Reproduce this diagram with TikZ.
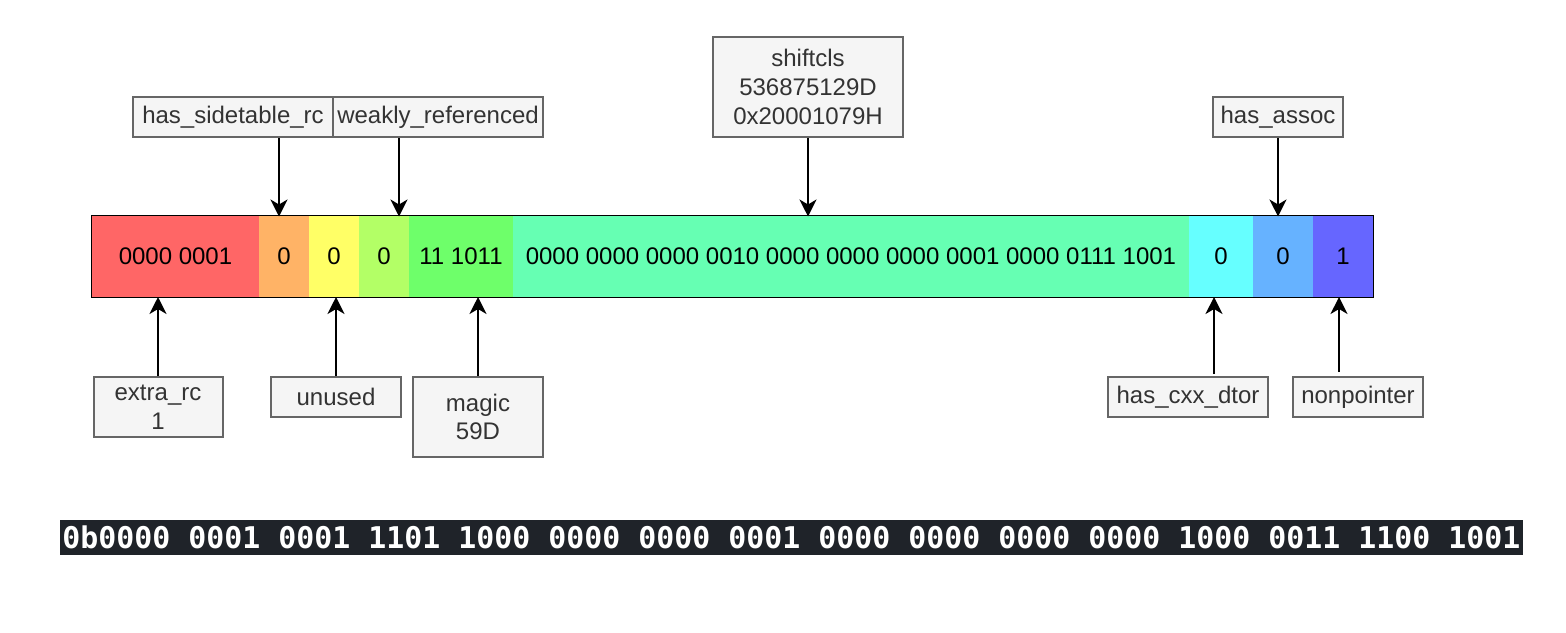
\documentclass[tikz,border=0pt]{standalone}
\usepackage{fontspec}
\setmainfont{Liberation Sans}
\newfontfamily\codefont{DejaVu Sans Mono}
\usetikzlibrary{arrows.meta}
\definecolor{lblfill}{HTML}{F5F5F5}
\definecolor{lbldraw}{HTML}{666666}
\definecolor{lbltext}{HTML}{333333}
\definecolor{cred}{HTML}{FF6666}
\definecolor{corange}{HTML}{FFB366}
\definecolor{cyellow}{HTML}{FFFF66}
\definecolor{clgreen}{HTML}{B3FF66}
\definecolor{cgreen}{HTML}{6EFF6A}
\definecolor{cmint}{HTML}{66FFB3}
\definecolor{ccyan}{HTML}{66FFFF}
\definecolor{cblue}{HTML}{66B2FF}
\definecolor{cpurple}{HTML}{6666FF}
\definecolor{codebg}{HTML}{1F2329}
\begin{document}
\begin{tikzpicture}[x=0.5pt,y=-0.5pt,
  lbl/.style={draw=lbldraw,fill=lblfill,line width=1pt,text=lbltext,align=center,inner sep=0pt,
    font=\fontsize{12}{14.3}\selectfont},
  cell/.style={fill=#1,draw=none,inner sep=0pt,minimum height=40.5pt,font=\fontsize{12}{14.3}\selectfont},
  arr/.style={line width=1pt,-{Stealth[length=8.5pt,width=8.5pt,inset=2.5pt]}}]
\useasboundingbox (0,0) rectangle (1566,632);
% bar cells
\node[cell=cred,minimum width=83.5pt] (c1) at (175.5,256.5) {0000 0001};
\node[cell=corange,minimum width=25pt] (c2) at (284,256.5) {0};
\node[cell=cyellow,minimum width=25pt] (c3) at (334,256.5) {0};
\node[cell=clgreen,minimum width=25pt] (c4) at (384,256.5) {0};
\node[cell=cgreen,minimum width=52pt] (c5) at (461,256.5) {11 1011};
\node[cell=cmint,minimum width=338pt] (c6) at (851,256.5) {0000 0000 0000 0010 0000 0000 0000 0001 0000 0111 1001};
\node[cell=ccyan,minimum width=32pt] (c7) at (1221,256.5) {0};
\node[cell=cblue,minimum width=30pt] (c8) at (1283,256.5) {0};
\node[cell=cpurple,minimum width=30pt] (c9) at (1343,256.5) {1};
\draw[line width=0.6pt] (c1.north west) rectangle (c9.south east);
% top labels
\node[lbl,minimum width=100pt,minimum height=20pt] (hs) at (233,117) {has\_sidetable\_rc};
\node[lbl,minimum width=105pt,minimum height=20pt] (wr) at (438,117) {weakly\_referenced};
\node[lbl,minimum width=95pt,minimum height=50pt] (sc) at (808,87) {shiftcls\\536875129D\\0x20001079H};
\node[lbl,minimum width=65pt,minimum height=20pt] (ha) at (1278,117) {has\_assoc};
% bottom labels
\node[lbl,minimum width=64.5pt,minimum height=30pt] (er) at (158,407) {extra\_rc\\1};
\node[lbl,minimum width=65pt,minimum height=20pt] (un) at (336,397) {unused};
\node[lbl,minimum width=65pt,minimum height=40pt] (mg) at (478,417) {magic\\59D};
\node[lbl,minimum width=80pt,minimum height=20pt] (cx) at (1188,397) {has\_cxx\_dtor};
\node[lbl,minimum width=65pt,minimum height=20pt] (np) at (1358,397) {nonpointer};
% arrow targets
\coordinate (t1) at (279,216.5);
\coordinate (t2) at (399,216.5);
\coordinate (t3) at (808,216.5);
\coordinate (t4) at (1278,216.5);
\coordinate (b1) at (158,297);
\coordinate (b2) at (336,297);
\coordinate (b3) at (478,297);
\coordinate (b4) at (1214,297);
\coordinate (b5) at (1339,297);
\draw[arr] (hs.south -| t1) -- (t1);
\draw[arr] (wr.south -| t2) -- (t2);
\draw[arr] (sc.south -| t3) -- (t3);
\draw[arr] (ha.south -| t4) -- (t4);
\draw[arr] (er.north -| b1) -- (b1);
\draw[arr] (un.north -| b2) -- (b2);
\draw[arr] (mg.north -| b3) -- (b3);
\draw[arr] ([yshift=1pt]cx.north -| b4) -- (b4);
\draw[arr] ([yshift=2pt]np.north -| b5) -- (b5);
% binary string
\node[fill=codebg,text=white,inner sep=0pt,minimum width=731.5pt,minimum height=17.5pt,
  font=\codefont\bfseries\fontsize{14.95}{16}\selectfont] (bin) at (791.5,537.5)
  {0b0000 0001 0001 1101 1000 0000 0000 0001 0000 0000 0000 0000 1000 0011 1100 1001};
\end{tikzpicture}
\end{document}
